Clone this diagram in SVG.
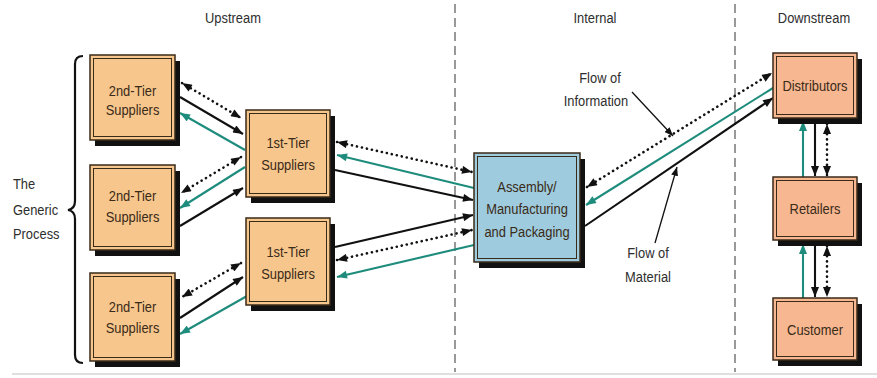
<svg xmlns="http://www.w3.org/2000/svg" width="877" height="378" viewBox="0 0 877 378">
  <defs>
    <style>
      text { font-family: "Liberation Sans", Arial, sans-serif; font-size: 15px; transform-box: fill-box; transform: scaleX(0.86); }
      .lbl { fill: #2e2e2e; text-anchor: middle; transform-origin: center; }
      .lbl-l { fill: #2e2e2e; transform-origin: left center; }
      .bt { fill: #3a2a18; text-anchor: middle; transform-origin: center; }
      .shadow { fill: #111; }
      .outer { stroke: #3a2a18; stroke-width: 1.5; }
      .inner { fill: none; stroke: #3a2a18; stroke-width: 1; }
      .tier { fill: #F7C68C; }
      .down { fill: #F6B791; }
      .asm { fill: #9ECCDE; }
      .mat { stroke: #111; stroke-width: 2.1; fill: none; marker-end: url(#ahBlack); }
      .ret { stroke: #1E8C7C; stroke-width: 2.1; fill: none; marker-end: url(#ahTeal); }
      .info { stroke: #111; stroke-width: 2.6; fill: none; stroke-dasharray: 0.1 5; stroke-linecap: round; marker-start: url(#ahBlack); marker-end: url(#ahBlack); }
      .call { stroke: #111; stroke-width: 1.3; fill: none; marker-end: url(#ahThin); }
      .divider { stroke: #555; stroke-width: 1.2; stroke-dasharray: 9 5; fill: none; }
    </style>
    <marker id="ahBlack" viewBox="0 0 10 8" refX="10" refY="4" markerWidth="11" markerHeight="8" markerUnits="userSpaceOnUse" orient="auto-start-reverse">
      <path d="M0,0 L10,4 L0,8 z" fill="#111"/>
    </marker>
    <marker id="ahTeal" viewBox="0 0 10 8" refX="10" refY="4" markerWidth="11" markerHeight="8" markerUnits="userSpaceOnUse" orient="auto-start-reverse">
      <path d="M0,0 L10,4 L0,8 z" fill="#1E8C7C"/>
    </marker>
    <marker id="ahThin" viewBox="0 0 10 8" refX="10" refY="4" markerWidth="9" markerHeight="7" markerUnits="userSpaceOnUse" orient="auto">
      <path d="M0,0 L10,4 L0,8 z" fill="#111"/>
    </marker>
  </defs>

  <rect width="877" height="378" fill="#ffffff"/>

  <!-- section headers and dividers -->
  <text class="lbl" x="233" y="23">Upstream</text>
  <text class="lbl" x="595" y="23">Internal</text>
  <text class="lbl" x="814" y="23">Downstream</text>
  <line class="divider" x1="455" y1="4" x2="455" y2="372"/>
  <line class="divider" x1="735" y1="4" x2="735" y2="372"/>
  <line x1="12" y1="374" x2="877" y2="374" stroke="#d4d4d4" stroke-width="1.5"/>

  <!-- brace and process label -->
  <path d="M83,56 Q75,56 75,64 L75,201 Q75,209 68,210 Q75,211 75,219 L75,355 Q75,363 83,363" fill="none" stroke="#111" stroke-width="2.2"/>
  <text class="lbl-l" x="13" y="189">The</text>
  <text class="lbl-l" x="13" y="215">Generic</text>
  <text class="lbl-l" x="13" y="239">Process</text>

  <!-- connectors -->
  <g id="connectors">
    <!-- 2nd tier (top) <-> 1st tier (top) -->
    <line class="info" x1="182" y1="83" x2="241" y2="118"/>
    <line class="mat" x1="180" y1="97" x2="243" y2="134"/>
    <line class="ret" x1="245" y1="150" x2="180" y2="113"/>
    <!-- 2nd tier (middle) <-> 1st tier (top) -->
    <line class="info" x1="241" y1="157" x2="181" y2="193"/>
    <line class="ret" x1="245" y1="167" x2="180" y2="208"/>
    <line class="mat" x1="180" y1="226" x2="243" y2="188"/>
    <!-- 2nd tier (bottom) <-> 1st tier (bottom) -->
    <line class="info" x1="241" y1="263" x2="182" y2="297"/>
    <line class="mat" x1="180" y1="318" x2="243" y2="277"/>
    <line class="ret" x1="247" y1="296" x2="180" y2="334"/>
    <!-- 1st tier (top) <-> assembly -->
    <line class="info" x1="337" y1="142" x2="472" y2="172"/>
    <line class="ret" x1="474" y1="188" x2="337" y2="155"/>
    <line class="mat" x1="335" y1="170" x2="473" y2="200"/>
    <!-- 1st tier (bottom) <-> assembly -->
    <line class="mat" x1="335" y1="247" x2="473" y2="215"/>
    <line class="info" x1="337" y1="260" x2="472" y2="230"/>
    <line class="ret" x1="474" y1="245" x2="337" y2="277"/>
    <!-- assembly <-> distributors -->
    <line class="info" x1="587" y1="187" x2="772" y2="73"/>
    <line class="ret" x1="773" y1="88" x2="586" y2="205"/>
    <line class="mat" x1="585" y1="226" x2="773" y2="98"/>
    <!-- distributors <-> retailers -->
    <line class="ret" x1="803" y1="177" x2="803" y2="121"/>
    <line class="mat" x1="815" y1="124" x2="815" y2="176"/>
    <line class="info" x1="827" y1="124" x2="827" y2="176"/>
    <!-- retailers <-> customer -->
    <line class="ret" x1="803" y1="298" x2="803" y2="244"/>
    <line class="mat" x1="815" y1="246" x2="815" y2="297"/>
    <line class="info" x1="827" y1="246" x2="827" y2="297"/>
    <!-- callouts -->
    <line class="call" x1="632" y1="92" x2="673" y2="136"/>
    <line class="call" x1="655" y1="243" x2="677" y2="167"/>
  </g>
  <text class="lbl" x="600" y="83">Flow of</text>
  <text class="lbl" x="596" y="106">Information</text>
  <text class="lbl" x="648" y="258">Flow of</text>
  <text class="lbl" x="648" y="282">Material</text>

  <!-- second-tier suppliers -->
  <g id="tier2-a">
    <rect class="shadow" x="95" y="61" width="85" height="85"/>
    <rect class="outer tier" x="90" y="55" width="85" height="85"/>
    <rect class="inner" x="93.5" y="58.5" width="78" height="78"/>
    <text class="bt" x="132.5" y="96">2nd-Tier</text>
    <text class="bt" x="132.5" y="115">Suppliers</text>
  </g>
  <g id="tier2-b">
    <rect class="shadow" x="95" y="171" width="85" height="85"/>
    <rect class="outer tier" x="90" y="165" width="85" height="85"/>
    <rect class="inner" x="93.5" y="168.5" width="78" height="78"/>
    <text class="bt" x="132.5" y="201">2nd-Tier</text>
    <text class="bt" x="132.5" y="222">Suppliers</text>
  </g>
  <g id="tier2-c">
    <rect class="shadow" x="95" y="279" width="85" height="88"/>
    <rect class="outer tier" x="90" y="273" width="85" height="88"/>
    <rect class="inner" x="93.5" y="276.5" width="78" height="81"/>
    <text class="bt" x="132.5" y="312">2nd-Tier</text>
    <text class="bt" x="132.5" y="333">Suppliers</text>
  </g>

  <!-- first-tier suppliers -->
  <g id="tier1-a">
    <rect class="shadow" x="251" y="116" width="84" height="87"/>
    <rect class="outer tier" x="246" y="110" width="84" height="87"/>
    <rect class="inner" x="249.5" y="113.5" width="77" height="80"/>
    <text class="bt" x="288" y="148">1st-Tier</text>
    <text class="bt" x="288" y="170">Suppliers</text>
  </g>
  <g id="tier1-b">
    <rect class="shadow" x="251" y="224" width="84" height="87"/>
    <rect class="outer tier" x="246" y="218" width="84" height="87"/>
    <rect class="inner" x="249.5" y="221.5" width="77" height="80"/>
    <text class="bt" x="288" y="257">1st-Tier</text>
    <text class="bt" x="288" y="279">Suppliers</text>
  </g>

  <!-- manufacturer -->
  <g id="assembly">
    <rect class="shadow" x="479" y="159" width="106" height="109"/>
    <rect class="outer asm" x="474" y="153" width="106" height="109"/>
    <rect class="inner" x="477.5" y="156.5" width="99" height="102"/>
    <text class="bt" x="527" y="192">Assembly/</text>
    <text class="bt" x="527" y="214">Manufacturing</text>
    <text class="bt" x="527" y="237">and Packaging</text>
  </g>

  <!-- downstream -->
  <g id="distributors">
    <rect class="shadow" x="778" y="59" width="84" height="65"/>
    <rect class="outer down" x="773" y="53" width="84" height="65"/>
    <rect class="inner" x="776.5" y="56.5" width="77" height="58"/>
    <text class="bt" x="815" y="91">Distributors</text>
  </g>
  <g id="retailers">
    <rect class="shadow" x="778" y="183" width="84" height="63"/>
    <rect class="outer down" x="773" y="177" width="84" height="63"/>
    <rect class="inner" x="776.5" y="180.5" width="77" height="56"/>
    <text class="bt" x="815" y="214">Retailers</text>
  </g>
  <g id="customer">
    <rect class="shadow" x="778" y="304" width="84" height="62"/>
    <rect class="outer down" x="773" y="298" width="84" height="62"/>
    <rect class="inner" x="776.5" y="301.5" width="77" height="55"/>
    <text class="bt" x="815" y="335">Customer</text>
  </g>
</svg>
